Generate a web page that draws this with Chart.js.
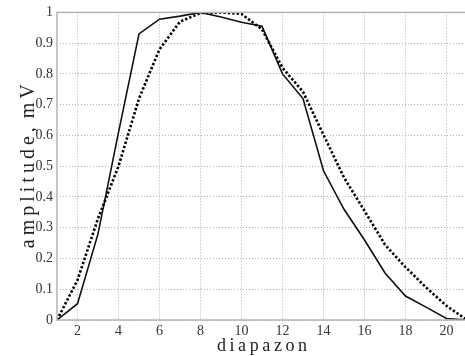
<!DOCTYPE html>
<html>
<head>
<meta charset="utf-8">
<script src="https://cdn.jsdelivr.net/npm/chart.js@4.4.1/dist/chart.umd.min.js"></script>
<style>
  html, body { margin: 0; padding: 0; background: #fff; overflow: hidden; }
  #chart { display: block; }
</style>
</head>
<body>
<canvas id="chart" width="470" height="356"></canvas>
<script>
const diapazon = [1, 2, 3, 4, 5, 6, 7, 8, 9, 10, 11, 12, 13, 14, 15, 16, 17, 18, 19, 20, 21];
const measured = [0, 0.053, 0.28, 0.61, 0.93, 0.978, 0.988, 1.0, 0.985, 0.968, 0.955, 0.80, 0.72, 0.485, 0.36, 0.26, 0.153, 0.078, 0.042, 0.005, 0];
const modelled = [0, 0.13, 0.33, 0.50, 0.72, 0.88, 0.97, 0.998, 1.0, 0.995, 0.945, 0.82, 0.742, 0.602, 0.463, 0.355, 0.245, 0.172, 0.106, 0.046, 0];
const xTicks = [2, 4, 6, 8, 10, 12, 14, 16, 18, 20];
const yTicks = [0, 0.1, 0.2, 0.3, 0.4, 0.5, 0.6, 0.7, 0.8, 0.9, 1];

function toPoints(values) {
  return diapazon.map((x, i) => ({ x: x, y: values[i] }));
}

// spread letters with thin spaces, like the original axis titles
function spaced(text) {
  return text.split(" ").map((w) => w.split("").join("\u2009")).join("\u2009 ");
}

const framePlugin = {
  id: "frame",
  afterDraw(chart) {
    const { ctx, chartArea } = chart;
    ctx.save();
    ctx.strokeStyle = "#b4b4b4";
    ctx.lineWidth = 1.5;
    ctx.strokeRect(chartArea.left, chartArea.top, chartArea.right - chartArea.left, chartArea.bottom - chartArea.top);
    ctx.restore();
  },
};

const serif = "'Liberation Serif', 'Times New Roman', serif";

new Chart(document.getElementById("chart"), {
  type: "line",
  data: {
    datasets: [
      {
        data: toPoints(modelled),
        borderColor: "#000",
        borderWidth: 2.6,
        borderDash: [2.4, 2],
        pointRadius: 0,
        tension: 0,
      },
      {
        data: toPoints(measured),
        borderColor: "#111",
        borderWidth: 1.6,
        pointRadius: 0,
        tension: 0,
      },
    ],
  },
  options: {
    responsive: false,
    animation: false,
    layout: { padding: { top: 11, right: 3, left: 0, bottom: 0 } },
    plugins: { legend: { display: false }, tooltip: { enabled: false } },
    scales: {
      x: {
        type: "linear",
        min: 1,
        max: 21,
        afterBuildTicks(scale) {
          scale.ticks = xTicks.map((v) => ({ value: v }));
        },
        afterFit(scale) {
          scale.height = 36;
        },
        grid: { color: "#b0b0b0", drawTicks: false, lineWidth: 1 },
        border: { display: false, dash: [1, 2] },
        ticks: { color: "#333", font: { family: serif, size: 14 }, padding: 3, maxRotation: 0 },
        title: {
          display: true,
          text: spaced("diapazon"),
          color: "#222",
          font: { family: serif, size: 18, lineHeight: 1.1 },
          padding: { top: 0, bottom: 0 },
        },
      },
      y: {
        min: 0,
        max: 1,
        afterBuildTicks(scale) {
          scale.ticks = yTicks.map((v) => ({ value: v }));
        },
        afterFit(scale) {
          scale.width = 57;
        },
        grid: { color: "#b0b0b0", drawTicks: false, lineWidth: 1 },
        border: { display: false, dash: [1, 2] },
        ticks: {
          color: "#333",
          font: { family: serif, size: 14 },
          padding: 4,
          callback: (v) => String(v),
        },
        title: {
          display: true,
          text: spaced("amplitude, mV"),
          color: "#222",
          font: { family: serif, size: 20 },
          padding: { top: 17, bottom: 0 },
        },
      },
    },
  },
  plugins: [framePlugin],
});
</script>
</body>
</html>
